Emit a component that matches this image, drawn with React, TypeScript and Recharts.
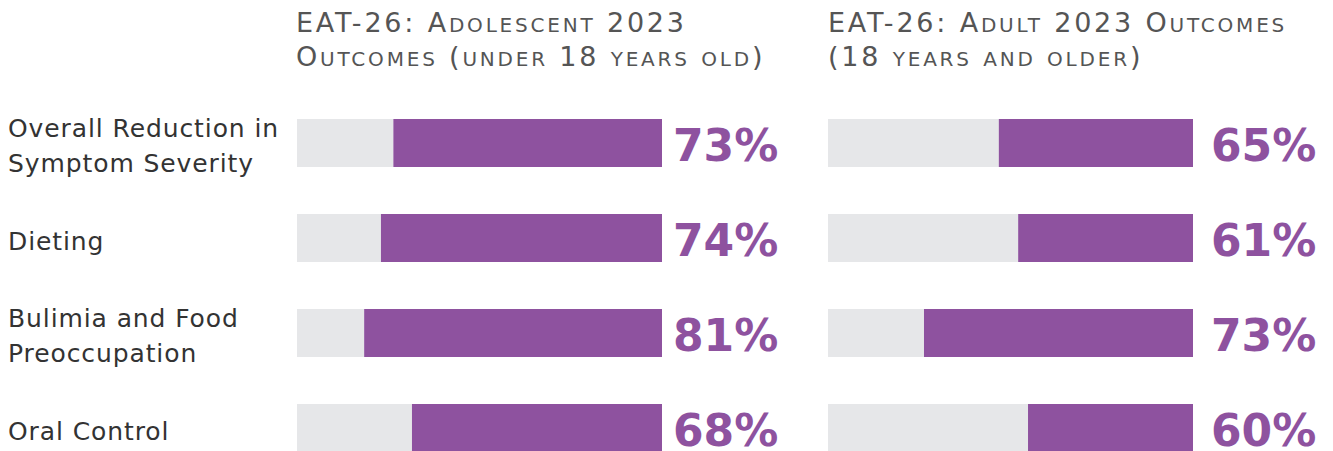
import React from 'react';
import { BarChart, Bar, XAxis, YAxis, LabelList } from 'recharts';

const categories = [
  'Overall Reduction in Symptom Severity',
  'Dieting',
  'Bulimia and Food Preoccupation',
  'Oral Control',
];
// bar lengths as drawn (share of the grey track)
const adolescentBars = [73.6, 77, 81.6, 68.5];
const adolescentLabels = ['73%', '74%', '81%', '68%'];
const adultBars = [53.2, 47.9, 73.7, 45.2];
const adultLabels = ['65%', '61%', '73%', '60%'];
const adolescentTitle = ['EAT-26: Adolescent 2023', 'Outcomes (under 18 years old)'];
const adultTitle = ['EAT-26: Adult 2023 Outcomes', '(18 years and older)'];

const PURPLE = '#8E529F';
const GREY = '#E6E7E9';
const FONT = '"DejaVu Sans", sans-serif';

const buildData = (bars: number[], labels: string[]) =>
  categories.map((name, i) => ({ name, value: bars[i], rest: 100 - bars[i], label: labels[i] }));

const adolescentData = buildData(adolescentBars, adolescentLabels);
const adultData = buildData(adultBars, adultLabels);

function wrap(text: string, max: number): string[] {
  const words = text.split(' ');
  const lines: string[] = [];
  let cur = '';
  for (const w of words) {
    const next = cur ? cur + ' ' + w : w;
    if (next.length > max && cur) {
      lines.push(cur);
      cur = w;
    } else cur = next;
  }
  if (cur) lines.push(cur);
  return lines;
}

function CategoryTick(props: any) {
  const { y, payload } = props;
  const lines = wrap(String(payload.value), 20);
  const first = lines.length > 1 ? y - 6 : y + 12;
  return (
    <text x={0} y={first} fill="#333333" fontSize={25} fontFamily={FONT} letterSpacing={0.9} textAnchor="start">
      {lines.map((l, i) => (
        <tspan key={i} x={0} y={first + i * 35}>
          {l}
        </tspan>
      ))}
    </text>
  );
}

const makeLabel = (offset: number) => (props: any) => {
  const { x, y, width, height, value } = props;
  return (
    <text
      x={Number(x) + Number(width) + offset}
      y={Number(y) + Number(height) / 2 + 17.5}
      fill={PURPLE}
      fontSize={44}
      fontWeight="bold"
      fontFamily={FONT}
      textAnchor="start"
    >
      {value}
    </text>
  );
};

// small caps: lowercase runs are shown as smaller capitals (text stays as written)
function SmallCaps({ text }: { text: string }) {
  const runs = text.match(/[a-z]+|[^a-z]+/g) || [];
  return (
    <>
      {runs.map((r, i) =>
        /^[a-z]/.test(r) ? (
          <span key={i} style={{ fontSize: 20, textTransform: 'uppercase' }}>
            {r}
          </span>
        ) : (
          <span key={i}>{r}</span>
        )
      )}
    </>
  );
}

function Title({ lines, left }: { lines: string[]; left: number }) {
  return (
    <div
      style={{
        position: 'absolute',
        left,
        top: -1,
        fontFamily: FONT,
        fontSize: 27,
        lineHeight: '32px',
        letterSpacing: 2.8,
        color: '#555555',
        whiteSpace: 'nowrap',
      }}
    >
      {lines.map((l, i) => (
        <div key={i}>
          <SmallCaps text={l} />
        </div>
      ))}
    </div>
  );
}

export default function App() {
  return (
    <div style={{ position: 'absolute', left: 8, top: 8, width: 1317, height: 443, overflow: 'hidden', background: '#fff' }}>
      <div style={{ position: 'absolute', left: 0, top: 0 }}>
        <BarChart
          width={800}
          height={467}
          data={adolescentData}
          layout="vertical"
          margin={{ top: 87, bottom: 0, left: 0, right: 146 }}
          barCategoryGap={0}
        >
          <XAxis type="number" domain={[0, 100]} hide />
          <YAxis
            type="category"
            dataKey="name"
            width={289}
            axisLine={false}
            tickLine={false}
            tick={<CategoryTick />}
            interval={0}
          />
          <Bar dataKey="rest" stackId="a" fill={GREY} barSize={48} isAnimationActive={false} />
          <Bar dataKey="value" stackId="a" fill={PURPLE} barSize={48} isAnimationActive={false}>
            <LabelList dataKey="label" content={makeLabel(11)} />
          </Bar>
        </BarChart>
      </div>
      <div style={{ position: 'absolute', left: 800, top: 0 }}>
        <BarChart
          width={517}
          height={467}
          data={adultData}
          layout="vertical"
          margin={{ top: 87, bottom: 0, left: 20, right: 132 }}
          barCategoryGap={0}
        >
          <XAxis type="number" domain={[0, 100]} hide />
          <YAxis type="category" dataKey="name" hide />
          <Bar dataKey="rest" stackId="a" fill={GREY} barSize={48} isAnimationActive={false} />
          <Bar dataKey="value" stackId="a" fill={PURPLE} barSize={48} isAnimationActive={false}>
            <LabelList dataKey="label" content={makeLabel(18)} />
          </Bar>
        </BarChart>
      </div>
      <Title lines={adolescentTitle} left={288} />
      <Title lines={adultTitle} left={820} />
    </div>
  );
}
